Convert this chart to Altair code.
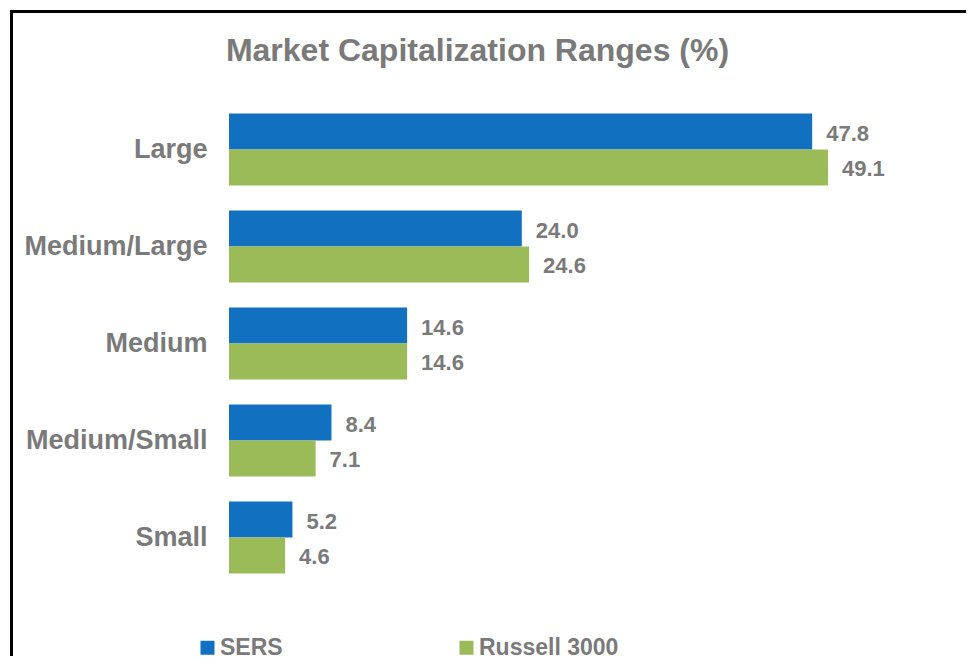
import altair as alt
import pandas as pd

categories = ["Large", "Medium/Large", "Medium", "Medium/Small", "Small"]
series = ["SERS", "Russell 3000"]
sers_values = [47.8, 24.0, 14.6, 8.4, 5.2]
russell_values = [49.1, 24.6, 14.6, 7.1, 4.6]
colors = ["#1170BF", "#9BBB59"]
title_text = "Market Capitalization Ranges (%)"

rows = []
for c, a, b in zip(categories, sers_values, russell_values):
    rows.append({"category": c, "series": series[0], "value": a})
    rows.append({"category": c, "series": series[1], "value": b})
df = pd.DataFrame(rows)

gray = "#7a7a7a"
font = "Liberation Sans"

base = alt.Chart(df).encode(
    y=alt.Y(
        "category:N",
        sort=categories,
        scale=alt.Scale(paddingInner=0.26, paddingOuter=0.13),
        axis=alt.Axis(
            title=None, labelFontSize=27, labelFontWeight="bold", labelColor=gray,
            labelFont=font, labelPadding=22, ticks=False, domain=False, labelLimit=400,
        ),
    ),
    yOffset=alt.YOffset("series:N", sort=series, scale=alt.Scale(paddingInner=0, paddingOuter=0)),
    x=alt.X("value:Q", scale=alt.Scale(domain=[0, 55], nice=False), axis=None),
)

bars = base.mark_bar().encode(
    color=alt.Color(
        "series:N",
        sort=series,
        scale=alt.Scale(domain=series, range=colors),
        legend=alt.Legend(
            title=None, orient="none", legendX=-33, legendY=535, direction="horizontal",
            symbolType="square", symbolSize=196, symbolStrokeWidth=0,
            labelFontSize=23, labelFontWeight="bold", labelColor=gray, labelFont=font,
            columnPadding=172, labelOffset=1,
        ),
    )
)

labels = base.mark_text(
    align="left", baseline="middle", dx=14, dy=2, fontSize=22, fontWeight="bold",
    color=gray, font=font,
).encode(text=alt.Text("value:Q", format=".1f"))

frame = alt.Data(values=[{"t": title_text}])
left_border = alt.Chart(frame).mark_rule(color="black", strokeWidth=3).encode(
    x=alt.value(-217.5), y=alt.value(-91), y2=alt.value(555)
)
top_border = alt.Chart(frame).mark_rule(color="black", strokeWidth=3).encode(
    x=alt.value(-219), x2=alt.value(737), y=alt.value(-89.5)
)
title = alt.Chart(frame).mark_text(
    align="center", baseline="alphabetic", fontSize=32, fontWeight="bold",
    color=gray, font=font,
).encode(x=alt.value(248.5), y=alt.value(-40), text="t:N")

chart = alt.layer(bars, labels, left_border, top_border, title).properties(
    width=671,
    height=485,
    padding={"top": 0, "left": 0, "right": 0, "bottom": 0},
).configure_view(strokeWidth=0)

chart.save("out.html", embed_options={"renderer": "svg", "actions": False})
